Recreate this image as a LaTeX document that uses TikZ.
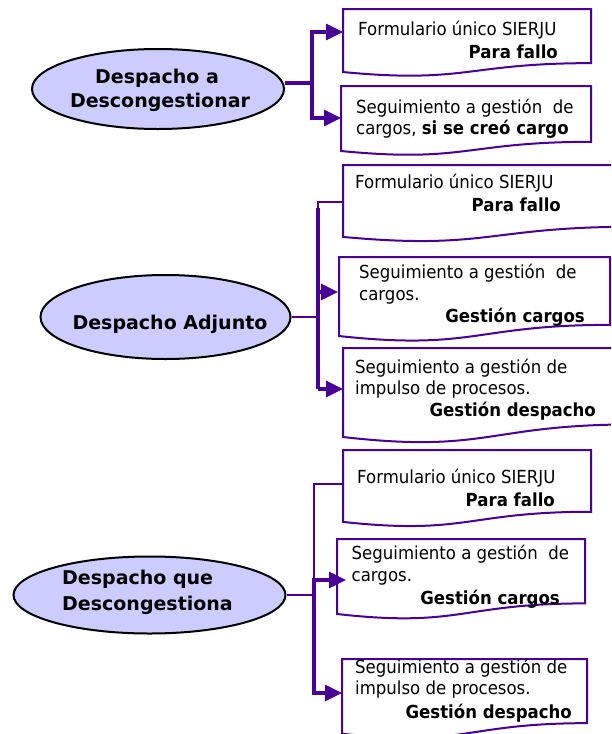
\documentclass[tikz,border=0pt]{standalone}
\usepackage{fontspec}
\setmainfont{DejaVu Sans}
\newfontfamily\boxfont{DejaVu Sans}[FakeStretch=0.92]
\usetikzlibrary{arrows.meta,shapes.geometric}
\definecolor{purp}{RGB}{72,0,150}
\definecolor{lav}{RGB}{204,204,255}
\newcommand\docbox[5]{% name, x, y, w, h
  \draw[docline] (#2,#3) -- ({#2+#4},#3) -- ({#2+#4},{#3+0.802*#5})
    .. controls ({#2+0.5*#4},{#3+0.802*#5}) and ({#2+0.5*#4},{#3+1.108*#5}) ..
    (#2,{#3+0.934*#5}) -- cycle;
  \coordinate (#1) at (#2,#3);
}
\begin{document}
\begin{tikzpicture}[x=1pt,y=-1pt,
  oval/.style={ellipse, draw=black, line width=2pt, fill=lav, inner sep=0pt},
  docline/.style={draw=purp, line width=2pt, fill=white},
  conn/.style={draw=purp, line width=3.3pt},
  mid/.style={draw=purp, line width=2.8pt},
  thinl/.style={draw=purp, line width=2.2pt},
  tip/.style={-{Triangle[length=17pt,width=16pt]}},
  txt/.style={font=\fontsize{18}{22}\boxfont, inner sep=0pt},
  btxt/.style={font=\fontsize{18}{22}\boxfont\bfseries, inner sep=0pt},
  etxt/.style={font=\fontsize{19}{23}\selectfont\bfseries, inner sep=0pt}
]
\path[use as bounding box] (0,0) rectangle (611,734);
\clip (0,0) rectangle (611,734);

% ---------- document boxes ----------
\docbox{b1a}{343}{9}{248}{67.5}
\docbox{b1b}{341}{86}{250}{69.6}
\docbox{b2a}{343}{165}{290}{77}
\docbox{b2b}{339}{257}{271}{84.6}
\docbox{b2c}{343}{348}{290}{95.3}
\docbox{b3a}{343}{450}{248}{77}
\docbox{b3b}{337}{539}{248}{80.3}
\docbox{b3c}{342}{659}{245}{80}

% ---------- ellipses ----------
\node[oval, minimum width=252pt, minimum height=80pt] (e1) at (158,89) {};
\node[oval, minimum width=250pt, minimum height=84pt] (e2) at (165.5,317) {};
\node[oval, minimum width=272pt, minimum height=77pt] (e3) at (149.5,595) {};

% ---------- connectors group 1 ----------
\coordinate (j1) at (312,83);
\coordinate (a1a) at (343,32);
\coordinate (a1b) at (341,118);
\draw[conn] (e1.east |- j1) -- (j1);
\draw[conn,tip] (j1) |- (a1a);
\draw[conn,tip] (j1) |- (a1b);

% ---------- connectors group 2 ----------
\coordinate (c2a) at (343,202);
\coordinate (j2) at (318,317);
\coordinate (j2top) at (318,208);
\coordinate (j2bot) at (318,389);
\coordinate (a2b) at (338,292);
\coordinate (a2c) at (343,389);
\draw[thinl] (c2a) -| (j2);
\draw[conn] (j2top) -- (j2bot);
\draw[mid] (e2.east) -- (j2);
\draw[conn,tip] (j2top |- a2b) -- (a2b);
\draw[conn,tip] (j2bot) -- (a2c);

% ---------- connectors group 3 ----------
\coordinate (c3a) at (343,484);
\coordinate (j3) at (314,595);
\coordinate (j3top) at (314,578);
\coordinate (j3bot) at (314,695);
\coordinate (a3b) at (346,580);
\coordinate (a3c) at (342,693);
\draw[thinl] (c3a) -| (j3);
\draw[conn] (j3top) -- (j3bot);
\draw[mid] (e3.east) -- (j3);
\draw[conn,tip] (j3top |- a3b) -- (a3b);
\draw[conn,tip] (j3top |- a3c) -- (a3c);

% ---------- ellipse texts ----------
\node[etxt, anchor=base] (t1l1) at (157,83) {Despacho a};
\node[etxt, anchor=base] (t1l2) at (160,107) {Descongestionar};
\node[etxt, anchor=base] (t2l1) at (170,329) {Despacho Adjunto};
\node[etxt, anchor=base west] (t3l1) at (62,584) {Despacho que};
\node[etxt, anchor=base west] (t3l2) at (62,610) {Descongestiona};

% ---------- box texts ----------
\node[txt, anchor=base west] (x1a1) at (358,35.5) {Formulario único SIERJU};
\node[btxt, anchor=base east] (x1a2) at (558,58.5) {Para fallo};
\node[txt, anchor=base west] (x1b1) at (356,113.5) {Seguimiento a gestión\ \ de};
\node[txt, anchor=base west] (x1b2) at (356,134.5) {cargos, \textbf{si se creó cargo}};

\node[txt, anchor=base west] (x2a1) at (355,188.5) {Formulario único SIERJU};
\node[btxt, anchor=base east] (x2a2) at (561,211.5) {Para fallo};
\node[txt, anchor=base west] (x2b1) at (359,278.5) {Seguimiento a gestión\ \ de};
\node[txt, anchor=base west] (x2b2) at (359,300.5) {cargos.};
\node[btxt, anchor=base east] (x2b3) at (585,322.5) {Gestión cargos};
\node[txt, anchor=base west] (x2c1) at (355,373.5) {Seguimiento a gestión de};
\node[txt, anchor=base west] (x2c2) at (355,394.5) {impulso de procesos.};
\node[btxt, anchor=base east] (x2c3) at (596,416.5) {Gestión despacho};

\node[txt, anchor=base west] (x3a1) at (357,483.5) {Formulario único SIERJU};
\node[btxt, anchor=base east] (x3a2) at (555,506.5) {Para fallo};
\node[txt, anchor=base west] (x3b1) at (351.5,559.5) {Seguimiento a gestión\ \ de};
\node[txt, anchor=base west] (x3b2) at (351.5,581.5) {cargos.};
\node[btxt, anchor=base east] (x3b3) at (560,604.5) {Gestión cargos};
\node[txt, anchor=base west] (x3c1) at (355,673.5) {Seguimiento a gestión de};
\node[txt, anchor=base west] (x3c2) at (355,694.5) {impulso de procesos.};
\node[btxt, anchor=base east] (x3c3) at (572,718.5) {Gestión despacho};
\end{tikzpicture}
\end{document}
